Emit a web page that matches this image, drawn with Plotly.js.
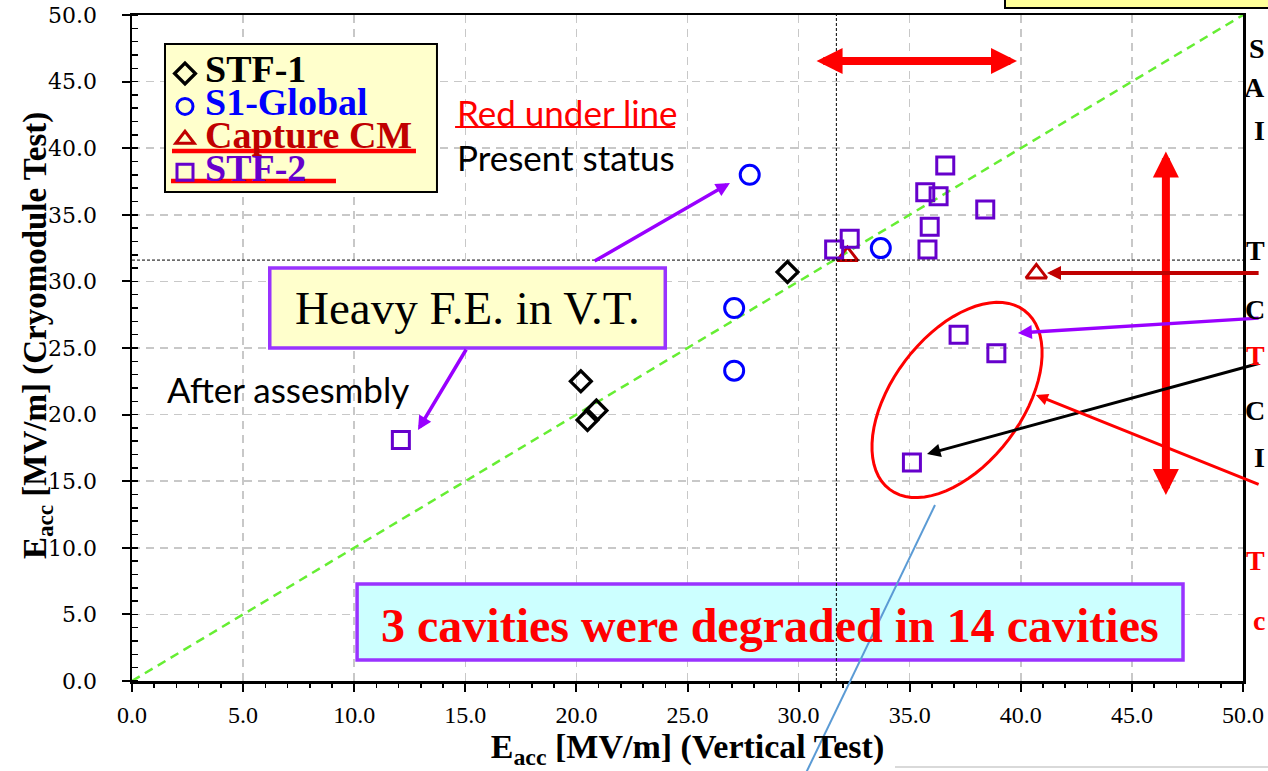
<!DOCTYPE html>
<html><head><meta charset="utf-8">
<script src="https://cdn.plot.ly/plotly-3.0.1.min.js"></script>
<style>html,body{margin:0;padding:0;background:#fff}#chart{width:1268px;height:771px}</style>
</head><body><div id="chart"></div>
<script>
// ---- data ----
const stf1X = [20.2, 20.5, 20.9, 29.5];
const stf1Y = [22.5, 19.6, 20.3, 30.7];
const s1X = [27.8, 27.1, 27.1, 33.7];
const s1Y = [38.0, 28.0, 23.3, 32.5];
const capX = [32.2, 40.7];
const capY = [31.9, 30.6];
const stf2X = [12.1, 31.6, 32.3, 35.7, 36.3, 36.6, 35.9, 35.8, 38.4, 37.2, 38.9, 35.1];
const stf2Y = [18.1, 32.4, 33.2, 36.7, 36.4, 38.7, 34.1, 32.4, 35.4, 26.0, 24.6, 16.4];
const seriesNames = ['STF-1', 'S1-Global', 'Capture CM', 'STF-2'];
const seriesColors = ['#000000', '#0000ff', '#c00000', '#6600cc'];
const specX = 31.7;   // vertical reference line
const specY = 31.6;   // horizontal reference line
const axisMax = 50;
const xTitle = '<b>E<sub>acc</sub> [MV/m] (Vertical Test)</b>';
const yTitle = '<b>E<sub>acc</sub> [MV/m] (Cryomodule Test)</b>';

const SERIF = 'Liberation Serif, Times New Roman, serif';
const SANS = 'Lato, Liberation Sans, sans-serif';

function mk(x, y, i, sym, size, lw) {
  return {
    x: x, y: y, type: 'scatter', mode: 'markers',
    name: '<span style="font-size:38px;color:' + seriesColors[i] + '"><b>' + seriesNames[i] + '</b></span>',
    marker: {symbol: sym, size: size, color: seriesColors[i], line: {color: seriesColors[i], width: lw}},
    cliponaxis: false
  };
}
const traces = [
  mk(stf1X, stf1Y, 0, 'diamond-open', 16, 3.3),
  mk(s1X, s1Y, 1, 'circle-open', 19, 3),
  mk(capX, capY, 2, 'triangle-up-open', 18, 3),
  mk(stf2X, stf2Y, 3, 'square-open', 17, 3)
];

// pixel-scale of the plot area for decorations
const PXX = 1111 / axisMax, PXY = 666 / axisMax;
// rotated ellipse around the degraded cavities
const ell = {cx: 37.13, cy: 21.1, a: 112, b: 65, th: 53 * Math.PI / 180};
let ep = '';
for (let k = 0; k <= 72; k++) {
  const t = k / 72 * 2 * Math.PI;
  const dx = ell.a * Math.cos(t) * Math.cos(ell.th) - ell.b * Math.sin(t) * Math.sin(ell.th);
  const dy = ell.a * Math.cos(t) * Math.sin(ell.th) + ell.b * Math.sin(t) * Math.cos(ell.th);
  ep += (k === 0 ? 'M' : 'L') + (ell.cx + dx / PXX).toFixed(3) + ',' + (ell.cy + dy / PXY).toFixed(3);
}
ep += 'Z';

const shapes = [
  {type: 'line', xref: 'x', yref: 'y', x0: 0, y0: 0, x1: axisMax, y1: axisMax, layer: 'between',
   line: {color: '#66ee33', width: 2.5, dash: '9px,6px'}},
  {type: 'rect', xref: 'paper', yref: 'paper', x0: 0.0297, x1: 0.2745, y0: 0.7342, y1: 0.9565, layer: 'above',
   fillcolor: '#ffffcc', line: {color: '#000', width: 2}},
  {type: 'rect', xref: 'x', yref: 'y', x0: 6.2, x1: 24.0, y0: 25.0, y1: 31.0, layer: 'above',
   fillcolor: '#ffffcc', line: {color: '#9933ff', width: 3.5}},
  {type: 'rect', xref: 'x', yref: 'y', x0: 10.13, x1: 47.3, y0: 1.58, y1: 7.28, layer: 'above',
   fillcolor: '#ccffff', line: {color: '#9933ff', width: 3.5}},
  {type: 'line', xref: 'x', yref: 'y', x0: 0, x1: axisMax, y0: specY, y1: specY, layer: 'above',
   line: {color: '#000', width: 1, dash: '3px,2px'}},
  {type: 'line', xref: 'x', yref: 'y', x0: specX, x1: specX, y0: 0, y1: axisMax, layer: 'above',
   line: {color: '#000', width: 1, dash: '3px,2px'}},
  {type: 'path', xref: 'x', yref: 'y', path: ep, layer: 'above', line: {color: '#ff0000', width: 3}},
  {type: 'line', xref: 'paper', yref: 'paper', x0: 0.036, x1: 0.2556, y0: 0.7958, y1: 0.7958, layer: 'above',
   line: {color: '#ff0000', width: 4.5}},
  {type: 'line', xref: 'paper', yref: 'paper', x0: 0.0351, x1: 0.1836, y0: 0.7508, y1: 0.7508, layer: 'above',
   line: {color: '#ff0000', width: 4.5}},
  {type: 'line', xref: 'x', yref: 'y', x0: 14.54, x1: 24.44, y0: 41.6, y1: 41.6, layer: 'above',
   line: {color: '#ff0000', width: 2}},
  {type: 'line', xref: 'paper', yref: 'paper', x0: (935 - 132) / 1111, y0: (681 - 505) / 666,
   x1: (805 - 132) / 1111, y1: (681 - 775) / 666, layer: 'above', line: {color: '#5b9bd5', width: 2}},
  {type: 'rect', xref: 'paper', yref: 'paper', x0: (1005 - 132) / 1111, x1: 1.2, y0: (681 - 8) / 666, y1: 1.1,
   fillcolor: '#ffff99', line: {color: '#000', width: 2}},
  {type: 'line', xref: 'paper', yref: 'paper', x0: (895 - 132) / 1111, x1: 1.2, y0: (681 - 767) / 666, y1: (681 - 767) / 666,
   line: {color: '#d9d9d9', width: 2}}
];

function arrow(x, y, ax, ay, color, w, s, both) {
  return {x: x, y: y, ax: ax, ay: ay, xref: 'x', yref: 'y', axref: 'x', ayref: 'y', text: '',
    showarrow: true, arrowhead: 2, arrowsize: s, arrowwidth: w, arrowcolor: color,
    startarrowhead: 2, startarrowsize: s, arrowside: both ? 'end+start' : 'end', standoff: 0, startstandoff: 0};
}
function txt(x, y, text, size, color, fam, anchor) {
  return {x: x, y: y, xref: 'x', yref: 'y', text: text, showarrow: false, xanchor: anchor || 'left',
    yanchor: 'middle', font: {family: fam, size: size, color: color}};
}
function edge(py, letter, color) {
  return {x: 1 + (1267 - 1243) / 1111, y: (681 - py) / 666, xref: 'paper', yref: 'paper', text: '<b>' + letter + '</b>',
    showarrow: false, xanchor: 'right', yanchor: 'middle', font: {family: SERIF, size: 28, color: color}};
}
const annotations = [
  arrow(39.83, 46.55, 30.74, 46.55, '#ff0000', 8, 0.65, true),
  arrow(46.53, 13.96, 46.53, 39.86, '#ff0000', 8, 0.65, true),
  arrow(41.18, 30.63, 50.77, 30.63, '#c00000', 4, 0.7),
  arrow(39.87, 26.13, 50.77, 27.25, '#9900ff', 3.5, 0.8),
  arrow(35.78, 17.04, 50.77, 23.87, '#000000', 3, 0.9),
  arrow(40.68, 21.47, 50.77, 14.71, '#ff0000', 3, 0.8),
  arrow(26.91, 37.39, 20.75, 31.46, '#9900ff', 3.5, 0.8),
  arrow(12.87, 18.84, 15.08, 25.0, '#9900ff', 3.5, 0.8),
  txt(14.54, 42.72, 'Red under line', 35, '#ff0000', SANS),
  txt(14.54, 39.34, 'Present status', 35, '#000000', SANS),
  txt(1.49, 21.92, 'After assesmbly', 35, '#000000', SANS),
  txt(15.08, 28.0, 'Heavy F.E. in V.T.', 47, '#000000', SERIF, 'center'),
  txt(28.71, 4.2, '<b>3 cavities were degraded in 14 cavities</b>', 48, '#ff0000', SERIF, 'center'),
  // y-axis title placed as rotated text
  {x: (37 - 132) / 1111, y: (681 - 336) / 666, xref: 'paper', yref: 'paper', text: yTitle, textangle: -90,
   showarrow: false, xanchor: 'center', yanchor: 'middle', font: {family: SERIF, size: 33, color: '#000'}},
  edge(48, 'S', '#000'), edge(87, 'A', '#000'), edge(130, 'I', '#000'),
  edge(250, 'T', '#000'), edge(310, 'C', '#000'), edge(355, 'T', '#ff0000'),
  edge(410, 'C', '#000'), edge(458, 'I', '#000'), edge(560, 'T', '#ff0000'), edge(620, 'c', '#ff0000')
];

const layout = {
  width: 1268, height: 771,
  margin: {l: 132, r: 25, t: 15, b: 90},
  paper_bgcolor: '#fff', plot_bgcolor: '#fff',
  showlegend: true,
  legend: {x: 0.0297, y: 0.9444, xanchor: 'left', yanchor: 'top', bgcolor: 'rgba(0,0,0,0)', borderwidth: 0,
    font: {family: SERIF, size: 23, color: '#000'}, tracegroupgap: 0, itemwidth: 30},
  xaxis: {range: [0, axisMax], dtick: 5, tickformat: '.1f', showline: true, linecolor: '#000', linewidth: 2.5,
    mirror: true, ticks: 'outside', ticklen: 8, tickwidth: 2, tickcolor: '#000',
    minor: {dtick: 1, ticks: 'outside', ticklen: 4, tickwidth: 1.5, tickcolor: '#000', showgrid: false},
    showgrid: true, gridcolor: '#c8c8c8', gridwidth: 1.5, griddash: '8px,6px', zeroline: false,
    tickfont: {family: SERIF, size: 24, color: '#000'}, ticklabelstandoff: 3,
    title: {text: xTitle, font: {family: SERIF, size: 34, color: '#000'}, standoff: 6}},
  yaxis: {range: [0, axisMax], dtick: 5, tickformat: '.1f', showline: true, linecolor: '#000', linewidth: 2.5,
    mirror: true, ticks: 'outside', ticklen: 8, tickwidth: 2, tickcolor: '#000',
    minor: {dtick: 1, ticks: 'inside', ticklen: 6, tickwidth: 1.5, tickcolor: '#000', showgrid: false},
    showgrid: true, gridcolor: '#c8c8c8', gridwidth: 1.5, griddash: '8px,6px', zeroline: false,
    tickfont: {family: 'DejaVu Serif, serif', size: 22, color: '#000'}, ticklabelstandoff: 20},
  shapes: shapes,
  annotations: annotations
};
Plotly.newPlot('chart', traces, layout, {displayModeBar: false, staticPlot: true});
</script></body></html>
